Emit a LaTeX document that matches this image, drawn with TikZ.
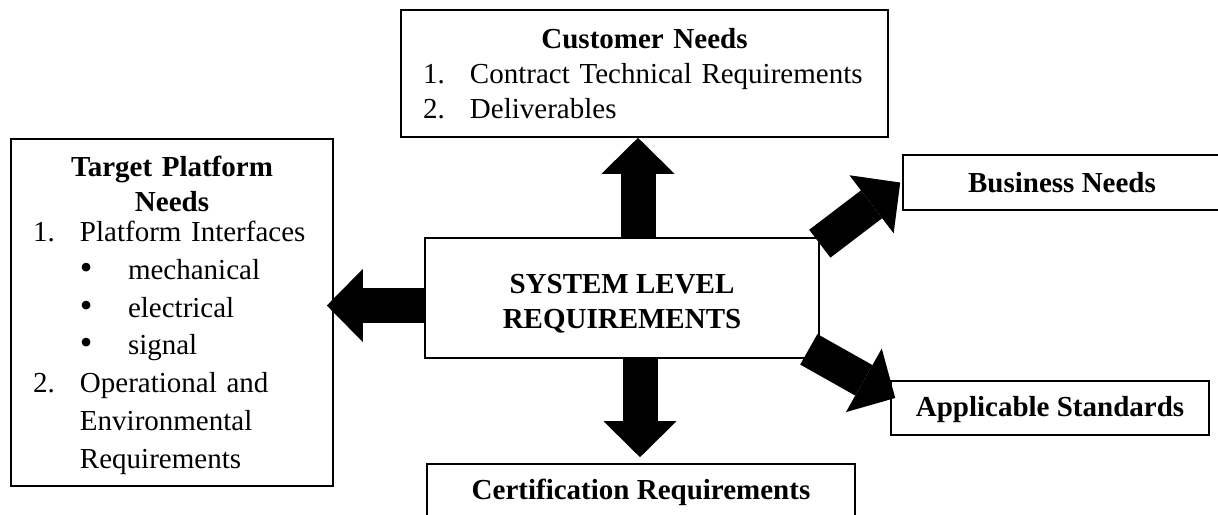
\documentclass[tikz,border=0pt]{standalone}
\usepackage{fontspec}
\setmainfont{Liberation Serif}
\usetikzlibrary{arrows.meta}

\tikzset{
    box/.style={draw, line width=1.6pt, inner xsep=22pt, inner ysep=0pt,
        font=\fontsize{29}{35}\selectfont},
    fatarrow/.style={line width=35pt,
        -{Triangle[length=36pt,width=73pt,line width=0pt]}},
}
\newcommand{\numitem}[1]{\makebox[47pt][l]{#1}}
\newcommand{\bulitem}{\hspace*{47pt}\makebox[48pt][l]{\smash{\fontsize{36}{0}\selectfont\textbullet}}}

\begin{document}
\begin{tikzpicture}[x=1pt,y=-1pt]

    \useasboundingbox (0,0) rectangle (1218,514);

    %boxes:
    \node[box, minimum width=487pt, minimum height=127pt, text width=443pt, align=left]
        (cust) at (644.5,73.5)
        {{\centering\bfseries Customer Needs\par}
         \numitem{1.}Contract Technical Requirements\\
         \numitem{2.}Deliverables};

    \node[box, minimum width=322pt, minimum height=347pt, text width=278pt, align=left,
          font=\fontsize{29}{37.7}\selectfont]
        (tgt) at (172,312.5)
        {{\fontsize{29}{35}\selectfont\centering\bfseries \rule{0pt}{26pt}Target Platform\\Needs\par}
         \vspace{-7.7pt}
         \numitem{1.}Platform Interfaces\\
         \bulitem mechanical\\
         \bulitem electrical\\
         \bulitem signal\\
         \numitem{2.}Operational and\\
         \hspace*{47pt}Environmental\\
         \hspace*{47pt}Requirements};

    \node[box, minimum width=394pt, minimum height=120pt, align=center, font=\fontsize{29}{35}\selectfont\bfseries]
        (sys) at (622,298) {\rule{0pt}{30pt}SYSTEM LEVEL\\REQUIREMENTS};

    \node[box, minimum width=318pt, minimum height=55pt, font=\fontsize{29}{35}\selectfont\bfseries]
        (bus) at (1062,182.5) {Business Needs};
    \node[box, minimum width=318pt, minimum height=54pt, font=\fontsize{29}{35}\selectfont\bfseries]
        (app) at (1050,408) {\rule{0pt}{24pt}Applicable Standards};
    \node[box, minimum width=428pt, minimum height=56pt, font=\fontsize{29}{35}\selectfont\bfseries]
        (cert) at (641,492) {Certification Requirements};

    %arrows:
    \draw[fatarrow] ([xshift=16pt]sys.north) -- ([xshift=16pt]sys.north |- cust.south);
    \draw[fatarrow] ([xshift=18pt]sys.south) -- ([xshift=18pt,yshift=6pt]sys.south |- cert.north);
    \draw[fatarrow] ([yshift=-7.5pt]sys.west) -- ([xshift=-7pt,yshift=-7.5pt]tgt.east |- sys.west);
    \draw[fatarrow] ([yshift=-6.5pt]sys.north east) -- ([xshift=-2pt]bus.west);
    \draw[fatarrow] ([shift={(-11pt,9.5pt)}]sys.south east) -- ([shift={(5pt,10pt)}]app.west);

\end{tikzpicture}
\end{document}
